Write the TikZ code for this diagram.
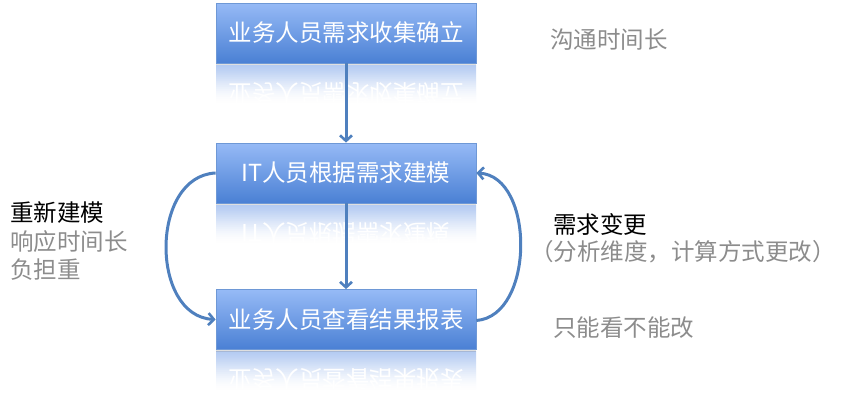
\documentclass[tikz,border=0pt]{standalone}
\usepackage{fontspec}
\newfontfamily\cjk{Noto Sans CJK SC}
\usetikzlibrary{arrows.meta,shadows}
\definecolor{boxtop}{HTML}{96BAF6}
\definecolor{boxbot}{HTML}{4A80D4}
\definecolor{boxedge}{HTML}{6E98D6}
\definecolor{refltop}{HTML}{B4CBF2}
\definecolor{linec}{HTML}{4F80BE}
\definecolor{graytxt}{HTML}{8C8C8C}
\tikzset{
  procbox/.style={draw=boxedge, line width=0.8pt, top color=boxtop, bottom color=boxbot,
    minimum width=260pt, minimum height=60pt, inner sep=0pt,
    font=\cjk\fontsize{23.5}{28}\selectfont, text=white,
    drop shadow={shadow xshift=0pt, shadow yshift=-2pt, opacity=0.25}},
  reflbox/.style={top color=refltop, bottom color=white, draw=none},
  refltext/.style={font=\cjk\fontsize{23.5}{28}\selectfont, text=white, yscale=-1},
  conn/.style={draw=linec, line width=3pt, -{Straight Barb[length=5.5pt,width=12pt,line width=2.6pt]}},
  sidegray/.style={anchor=west, inner sep=0pt, font=\cjk\fontsize{23.5}{28}\selectfont, text=graytxt},
  sideblack/.style={anchor=west, inner sep=0pt, font=\cjk\fontsize{23.5}{28}\selectfont, text=black}
}
\begin{document}
\begin{tikzpicture}[x=1pt,y=-1pt]
\useasboundingbox (0,0) rectangle (865,415);
% reflections
\foreach \cy/\txt in {33/业务人员需求收集确立, 173/IT人员根据需求建模, 319.5/业务人员查看结果报表}{
  \pgfmathsetmacro{\bot}{\cy+30}
  \pgfmathsetmacro{\rt}{\cy+60}
  \begin{scope}
    \clip (216,\bot+2) rectangle (476,\bot+42);
    \fill[reflbox] (216,\bot+2) rectangle (476,\bot+42);
    \node[refltext] at (346,\rt) {\txt};
    \foreach \i in {0,...,19}{
      \pgfmathsetmacro{\op}{min(1,(\i/19)^1.8)}
      \fill[white, opacity=\op] (214,\bot+2+2*\i) rectangle (478,\bot+4.2+2*\i);
    }
  \end{scope}
}
% boxes
\node[procbox] (b1) at (346,33) {业务人员需求收集确立};
\node[procbox] (b2) at (346,173) {IT人员根据需求建模};
\node[procbox] (b3) at (346,319.5) {业务人员查看结果报表};
% connectors
\draw[conn] (b1.south) -- (b2.north);
\draw[conn] (b2.south) -- (b3.north);
\draw[conn] (b2.west) .. controls (150,176) and (150,316) .. (b3.west);
\draw[conn] ([yshift=-1pt]b3.east) .. controls (535,316) and (535,176) .. (b2.east);
% side texts
\node[sidegray] (t1) at (550,40) {沟通时间长};
\node[sideblack] (t2) at (10,213) {重新建模};
\node[sidegray] (t3) at (10,242) {响应时间长};
\node[sidegray] (t4) at (10,270) {负担重};
\node[sideblack] (t5) at (553,224) {需求变更};
\node[sidegray] (t6) at (530,251.5) {（分析维度，计算方式更改）};
\node[sidegray] (t7) at (553,328) {只能看不能改};
\end{tikzpicture}
\end{document}
